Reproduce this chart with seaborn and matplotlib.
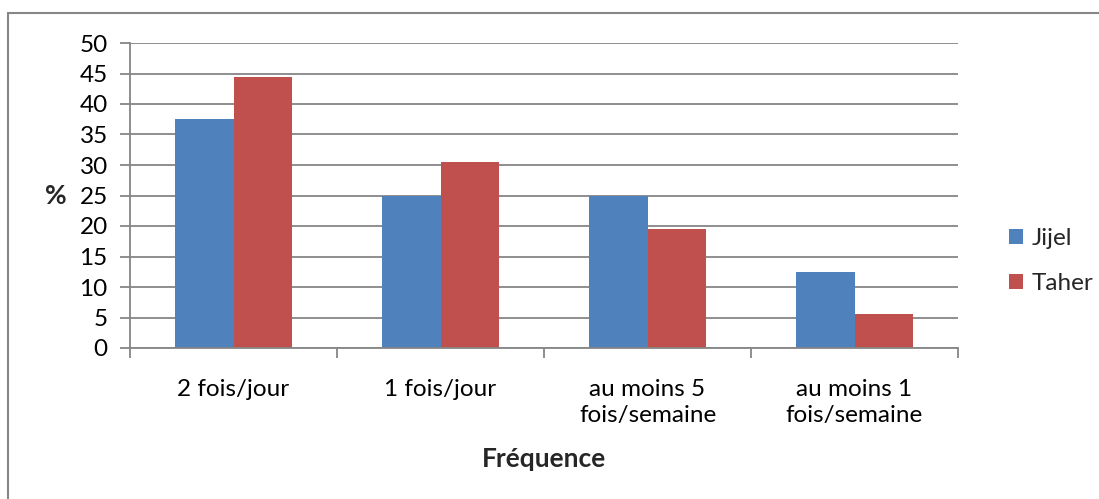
import matplotlib
matplotlib.use("Agg")
import matplotlib.pyplot as plt
from matplotlib.patches import Rectangle, Patch
from matplotlib.ticker import FixedLocator, MultipleLocator
import seaborn as sns
import pandas as pd

categories = ["2 fois/jour", "1 fois/jour", "au moins 5\nfois/semaine", "au moins 1\nfois/semaine"]
series = ["Jijel", "Taher"]
jijel = [37.5, 25.0, 25.0, 12.5]
taher = [44.44, 30.56, 19.44, 5.56]
colors = ["#4F81BD", "#C0504D"]

df = pd.DataFrame({
    "Fréquence": categories * 2,
    "Région": [series[0]] * 4 + [series[1]] * 4,
    "valeur": jijel + taher,
})

sns.set_theme(style="white")
plt.rcParams["font.family"] = ["Lato", "DejaVu Sans"]

GRID = "#868686"
FS = 17.5
fig = plt.figure(figsize=(10.99, 4.99), dpi=100)
ax = fig.add_axes([130 / 1099, 151 / 499, 828 / 1099, 305 / 499])

sns.barplot(data=df, x="Fréquence", y="valeur", hue="Région", palette=colors,
            width=0.57, ax=ax, legend=False, saturation=1, linewidth=0)

ax.set_xlim(-0.5, 3.5)
ax.set_ylim(0, 50)
ax.yaxis.set_major_locator(MultipleLocator(5))
ax.set_axisbelow(True)
ax.grid(axis="y", color=GRID, linewidth=1.3)
ax.grid(axis="x", visible=False)

for s in ["top", "right"]:
    ax.spines[s].set_visible(False)
for s in ["left", "bottom"]:
    ax.spines[s].set_color(GRID)
    ax.spines[s].set_linewidth(1.3)

ax.tick_params(axis="y", which="major", left=True, length=7, width=1.3, color=GRID,
               labelsize=FS, pad=9, labelcolor="black")
ax.tick_params(axis="x", which="major", bottom=False, labelsize=FS, pad=16,
               labelcolor="black")
ax.xaxis.set_minor_locator(FixedLocator([-0.5, 0.5, 1.5, 2.5, 3.5]))
ax.tick_params(axis="x", which="minor", bottom=True, length=7, width=1.3, color=GRID)
for lab in ax.get_xticklabels():
    lab.set_linespacing(1.32)

ax.set_xlabel("Fréquence", fontsize=19, fontweight="bold", labelpad=15)
ax.set_ylabel("%", fontsize=19, fontweight="bold", rotation=0, labelpad=17, va="center")

handles = [Patch(facecolor=c, edgecolor="none") for c in colors]
fig.legend(handles, series, loc="center left", bbox_to_anchor=(999 / 1099, 1 - 261 / 499),
           frameon=False, fontsize=FS, handlelength=0.6, handleheight=0.6,
           handletextpad=0.35, labelspacing=1.0, borderaxespad=0)

fig.patches.append(Rectangle((7.5 / 1099, -0.1), 1.2, 1 - 13.5 / 499 + 0.1,
                             transform=fig.transFigure, fill=False,
                             edgecolor=GRID, linewidth=1.5, zorder=-1))

fig.savefig("out.png", dpi=100, facecolor="white")
